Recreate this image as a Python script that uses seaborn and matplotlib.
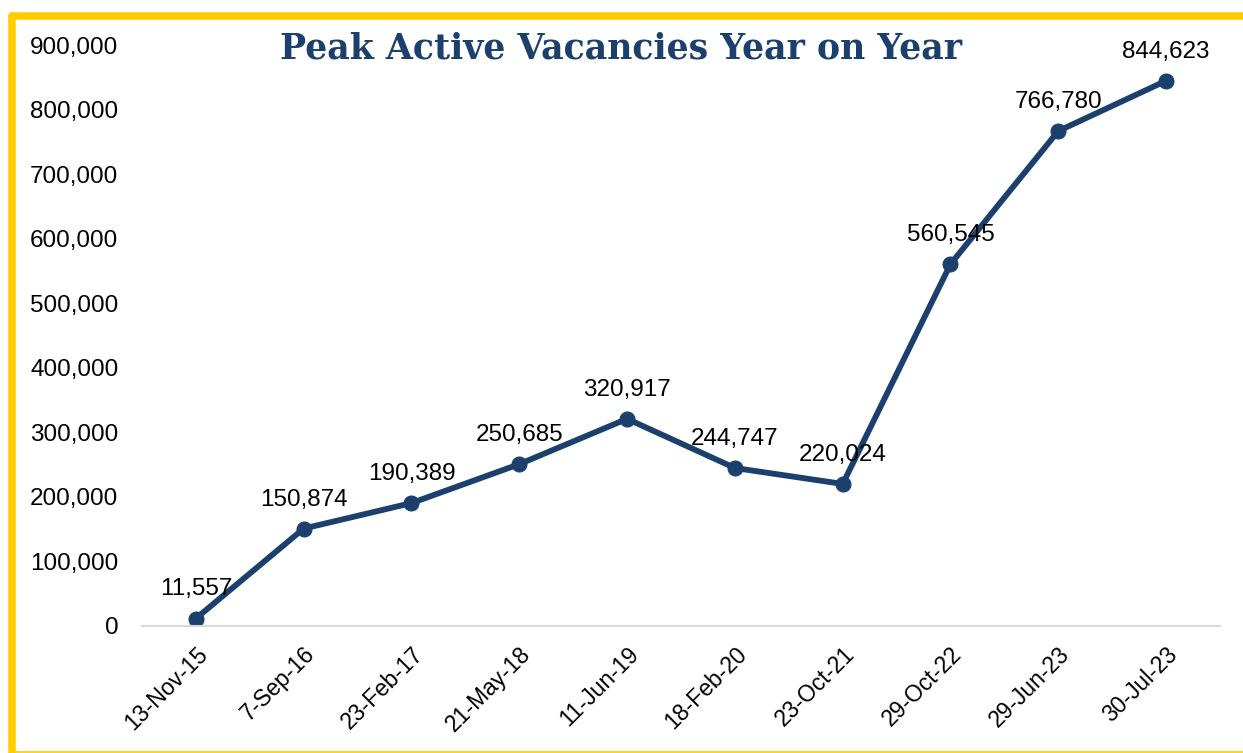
import numpy as np
import pandas as pd
import seaborn as sns
from matplotlib import pyplot as plt
from matplotlib.lines import Line2D
from matplotlib.ticker import FuncFormatter

dates = ["13-Nov-15", "7-Sep-16", "23-Feb-17", "21-May-18", "11-Jun-19",
         "18-Feb-20", "23-Oct-21", "29-Oct-22", "29-Jun-23", "30-Jul-23"]
vacancies = [11557, 150874, 190389, 250685, 320917,
             244747, 220024, 560545, 766780, 844623]
yticks = [0, 100000, 200000, 300000, 400000, 500000, 600000, 700000, 800000, 900000]

NAVY = "#1C406E"
YELLOW = "#FFCC00"

sns.set_style("white")
plt.rcParams['font.family'] = ['Liberation Sans', 'DejaVu Sans']

df = pd.DataFrame({"date": dates, "vacancies": vacancies})
df["pos"] = np.arange(len(df))

fig = plt.figure(figsize=(12.43, 7.53), dpi=100)
ax = fig.add_axes([0.1142, 0.1687, 0.9815 - 0.1142, 0.9402 - 0.1687])

sns.lineplot(data=df, x="pos", y="vacancies", ax=ax, color=NAVY,
             linewidth=4.2, marker="o", markersize=10.8,
             markeredgecolor=NAVY, markerfacecolor=NAVY)

for x, y in zip(df["pos"], df["vacancies"]):
    ax.annotate(f"{y:,}", (x, y), xytext=(0, 13), textcoords="offset points",
                ha="center", va="bottom", fontsize=17.5, color="black")

ax.set_xlim(-0.5, len(dates) - 0.5)
ax.set_ylim(0, 900000)
ax.set_xticks(df["pos"])
ax.set_xticklabels(dates, rotation=45, ha="right", rotation_mode="anchor",
                   fontsize=16.5, color="black")
ax.set_yticks(yticks)
ax.yaxis.set_major_formatter(FuncFormatter(lambda v, p: f"{int(v):,}"))
ax.tick_params(axis="y", labelsize=17.5, labelcolor="black", length=0, pad=17)
ax.tick_params(axis="x", length=0, pad=12)
ax.set_xlabel("")
ax.set_ylabel("")
for s in ["top", "right", "left"]:
    ax.spines[s].set_visible(False)
ax.spines["bottom"].set_color("#D9D9D9")
ax.spines["bottom"].set_linewidth(1.5)

fig.text(0.5, 0.935, "Peak Active Vacancies Year on Year",
         ha="center", va="center", fontsize=25, fontweight="bold",
         color=NAVY, family=["DejaVu Serif", "Liberation Serif"])

# yellow frame: thick top and left, thin bottom
W, H = 1243, 753
fig.add_artist(Line2D([11.5 / W, 1.01], [1 - 15.5 / H] * 2, color=YELLOW,
                      linewidth=5.4, solid_capstyle="round", transform=fig.transFigure))
fig.add_artist(Line2D([11.5 / W] * 2, [1 - 15.5 / H, -0.01], color=YELLOW,
                      linewidth=5.4, solid_capstyle="round", transform=fig.transFigure))
fig.add_artist(Line2D([11.5 / W, 1.01], [1 - 752 / H] * 2, color=YELLOW,
                      linewidth=1.2, transform=fig.transFigure))

fig.savefig("out.png", dpi=100)
